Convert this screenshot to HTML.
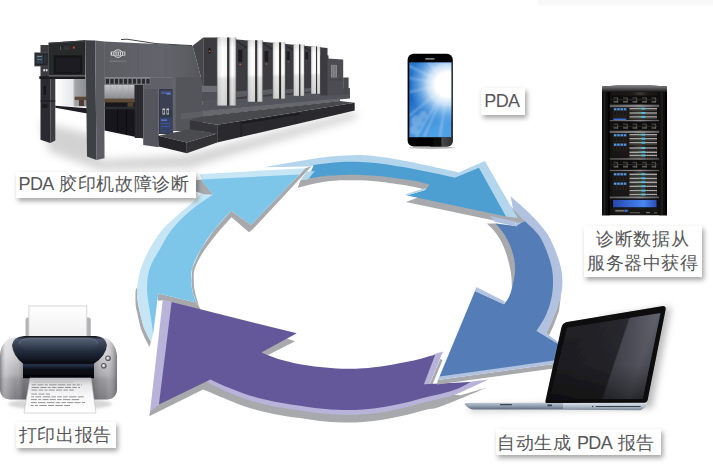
<!DOCTYPE html>
<html lang="zh">
<head>
<meta charset="utf-8">
<title>PDA 胶印机故障诊断</title>
<style>
html,body{margin:0;padding:0;background:#fff;}
body{width:713px;height:475px;position:relative;overflow:hidden;font-family:"Liberation Sans",sans-serif;}
#art{position:absolute;left:0;top:0;width:713px;height:475px;}
.lbl{position:absolute;background:#fff;color:#565658;font-size:18.4px;letter-spacing:0.55px;line-height:24px;white-space:nowrap;box-shadow:2px 3px 5px rgba(0,0,0,.36);text-align:left;box-sizing:border-box;}
.lbl .en{font-size:18px;letter-spacing:-0.6px;}
</style>
</head>
<body>
<svg id="art" width="713" height="475" viewBox="0 0 713 475">
<defs>
</defs>
<rect id="topstrip" x="538" y="0" width="175" height="5.5" fill="#f8f8f8"/>
<!-- RING -->
<g id="ring">
<path d="M158.2 293.5L196.5 302.5L201.0 310.0L163.5 300.2L158.0 300.8Z" fill="#A7A9AC"/>
<path d="M196.5 302.5L192.6 292.0L191.4 281.0L192.3 268.0L200.5 250.0L214.0 230.0L231.1 210.7L251.1 224.8L299.5 174.5L305.4 168.2L311.7 166.1L252.5 229.5L249.0 232.2L231.5 217.2C229.2 219.8 222.2 227.3 217.5 233.0C212.8 238.7 207.3 245.6 203.5 251.5C199.7 257.4 196.4 263.6 194.8 268.5C193.2 273.4 193.8 277.1 193.8 281.0C193.8 284.9 194.1 287.8 195.0 292.0C195.9 296.2 198.3 303.7 199.0 306.0Z" fill="#A7A9AC"/>
<path d="M137.3 287.0L137.5 300.0L139.2 309.6L144.0 328.0L151.0 342.0L153.0 334.0L149.5 347.0C148.2 344.3 143.9 336.8 141.8 331.0C139.7 325.2 138.1 316.8 137.0 312.0C135.9 307.2 135.7 305.7 135.5 302.0C135.3 298.3 135.6 292.0 135.6 290.0Z" fill="#A7A9AC"/>
<path d="M305.4 168.2L199.5 174.2C200.2 176.3 204.1 182.9 203.5 187.0C202.9 191.1 199.9 194.7 196.0 199.0C192.1 203.3 185.7 207.8 180.0 213.0C174.3 218.2 167.1 224.0 162.0 230.0C156.9 236.0 153.1 242.7 149.6 249.0C146.1 255.3 143.1 261.7 141.0 268.0C138.9 274.3 137.9 281.7 137.3 287.0C136.7 292.3 137.2 296.2 137.5 300.0C137.8 303.8 138.1 304.9 139.2 309.6C140.3 314.3 142.0 322.6 144.0 328.0C146.0 333.4 149.8 339.7 151.0 342.0L153.0 334.0L158.2 293.5L175.0 260.0L215.0 215.0L240.0 205.0L299.5 174.5Z" fill="#C6E6F5"/>
<path d="M195.0 180.5L201.0 179.5L213.0 194.5L203.5 194.2L195.0 191.0Z" fill="#A7A9AC"/>
<path d="M299.5 174.5L201.0 179.5L213.0 194.5C209.2 197.2 196.9 205.1 190.0 211.0C183.1 216.9 176.4 223.7 171.4 230.0C166.4 236.3 163.3 243.3 160.0 249.0C156.7 254.7 153.6 259.3 151.5 264.0C149.4 268.7 148.4 272.7 147.7 277.4C147.0 282.1 147.0 287.2 147.2 292.0C147.4 296.8 148.3 301.0 149.0 306.0C149.7 311.0 150.8 317.3 151.5 322.0C152.2 326.7 152.8 332.0 153.0 334.0L158.2 293.5L196.5 302.5C195.8 300.8 193.4 295.6 192.6 292.0C191.8 288.4 191.4 285.0 191.4 281.0C191.4 277.0 190.8 273.2 192.3 268.0C193.8 262.8 196.9 256.3 200.5 250.0C204.1 243.7 208.9 236.6 214.0 230.0C219.1 223.4 228.2 213.9 231.1 210.7L251.1 224.8Z" fill="#7DC6E9"/>
<path d="M487.1 387.4C479.6 390.5 452.2 402.2 442.0 405.9C431.8 409.6 432.2 408.1 426.0 409.7C419.8 411.2 412.0 413.6 405.0 415.2C398.0 416.8 391.0 418.4 384.0 419.5C377.0 420.6 370.0 421.4 363.0 421.9C356.0 422.4 349.2 422.6 342.0 422.4C334.8 422.2 327.0 421.6 320.0 420.9C313.0 420.2 306.3 419.0 300.0 418.1C293.7 417.2 287.9 416.4 282.0 415.4C276.1 414.4 271.0 413.5 264.8 412.0C258.6 410.5 251.3 408.5 245.0 406.4C238.7 404.3 234.0 402.2 227.0 399.4C220.0 396.6 207.1 391.1 203.1 389.5L149.2 416.3L150.0 411.8L170.0 350.0L300.0 390.0L430.0 392.0L460.6 395.2Z" fill="#A7A9AC"/>
<path d="M286.8 338.6L295.2 341.2L268.0 355.0L260.3 352.6Z" fill="#A7A9AC"/>
<path d="M440.3 359.0L442.6 360.0L431.2 387.6L428.3 387.4Z" fill="#A7A9AC"/>
<path d="M162.8 299.7L171.6 302.1L200.0 340.0L300.0 380.0L428.0 372.0L434.5 354.0L442.9 351.6L429.5 384.6L460.0 383.0L488.4 379.4C483.2 381.8 464.7 390.6 457.0 393.8C449.3 397.0 447.2 396.9 442.0 398.3C436.8 399.7 432.2 400.6 426.0 402.1C419.8 403.7 412.0 406.0 405.0 407.6C398.0 409.2 391.0 410.8 384.0 411.9C377.0 413.0 370.0 413.8 363.0 414.3C356.0 414.8 349.2 415.0 342.0 414.8C334.8 414.6 327.0 414.0 320.0 413.3C313.0 412.6 306.3 411.4 300.0 410.5C293.7 409.6 287.9 408.8 282.0 407.8C276.1 406.8 271.0 405.9 264.8 404.4C258.6 402.9 251.3 400.9 245.0 398.8C238.7 396.7 233.6 394.7 227.0 391.8C220.4 388.9 208.9 383.0 205.3 381.2L210.5 378.0L200.0 375.0L165.0 398.0L158.9 404.5L150.0 411.8Z" fill="#B7B3D9"/>
<path d="M171.6 302.1L296.8 333.3L261.4 352.5C264.5 353.7 273.6 357.6 280.0 359.5C286.4 361.4 293.3 362.9 300.0 364.2C306.7 365.4 313.0 366.2 320.0 367.0C327.0 367.8 334.8 368.5 342.0 368.7C349.2 368.9 356.0 368.8 363.0 368.3C370.0 367.8 377.5 366.8 384.0 365.9C390.5 365.0 396.4 363.9 402.0 362.8C407.6 361.7 412.2 360.9 417.8 359.5C423.4 358.1 432.4 355.3 435.3 354.5L423.9 384.2L470.7 382.0C468.4 383.2 461.8 387.1 457.0 389.0C452.2 390.9 447.2 392.1 442.0 393.5C436.8 394.9 432.2 395.8 426.0 397.3C419.8 398.9 412.0 401.2 405.0 402.8C398.0 404.4 391.0 406.0 384.0 407.1C377.0 408.2 370.0 409.0 363.0 409.5C356.0 410.0 349.2 410.2 342.0 410.0C334.8 409.8 327.0 409.2 320.0 408.5C313.0 407.8 306.3 406.6 300.0 405.7C293.7 404.8 287.9 404.0 282.0 403.0C276.1 402.0 271.0 401.1 264.8 399.6C258.6 398.1 251.3 396.1 245.0 394.0C238.7 391.9 232.8 389.4 227.0 387.0C221.2 384.6 213.2 380.7 210.5 379.4L158.9 404.5Z" fill="#65589A"/>
<path d="M495.5 223.5L487.0 223.5C488.3 224.9 492.5 228.8 495.0 232.0C497.5 235.2 500.0 239.0 502.0 243.0C504.0 247.0 505.7 251.8 507.0 256.0C508.3 260.2 509.2 264.3 510.0 268.0C510.8 271.7 511.2 274.3 511.5 278.0C511.8 281.7 511.9 288.0 512.0 290.0L525.0 290.0L530.0 260.0L520.0 235.0L505.0 226.0Z" fill="#A7A9AC"/>
<path d="M437.8 380.0L572.0 361.5L572.0 366.0L437.0 384.5Z" fill="#A7A9AC"/>
<path d="M561.0 295.0L556.6 309.5L551.0 323.0L546.0 333.2L549.0 335.5L553.8 325.0L559.0 311.0Z" fill="#A7A9AC"/>
<path d="M510.5 196.2C512.9 198.3 520.6 204.9 525.0 209.0C529.4 213.1 533.2 216.7 537.0 221.0C540.8 225.3 544.8 229.8 548.0 235.0C551.2 240.2 553.8 246.5 556.0 252.0C558.2 257.5 559.9 263.2 561.0 268.0C562.1 272.8 562.4 276.5 562.4 281.0C562.4 285.5 562.0 290.2 561.0 295.0C560.0 299.8 558.3 304.8 556.6 309.5C554.9 314.2 552.8 319.1 551.0 323.0C549.2 326.9 546.8 331.5 546.0 333.2L572.0 352.0L572.0 361.5L437.8 380.0L439.5 376.6L500.0 330.0L530.0 280.0L516.5 226.0Z" fill="#B0C2E0"/>
<path d="M524.4 220.8C526.8 223.2 534.8 229.8 538.6 235.0C542.4 240.2 544.8 246.3 547.0 252.0C549.2 257.7 551.0 263.5 552.0 269.0C553.0 274.5 553.2 279.8 553.0 285.0C552.8 290.2 552.2 294.8 551.0 300.0C549.8 305.2 547.9 310.8 545.5 316.0C543.1 321.2 538.0 328.5 536.5 331.0L561.8 346.3L566.0 358.8L439.5 376.6L475.0 291.0L504.0 304.2C504.8 303.0 507.6 300.0 509.0 297.0C510.4 294.0 511.5 290.2 512.5 286.0C513.5 281.8 514.8 276.7 515.0 272.0C515.2 267.3 515.0 262.8 514.0 258.0C513.0 253.2 511.0 247.5 509.0 243.0C507.0 238.5 504.2 234.2 502.0 231.0C499.8 227.8 496.6 224.8 495.5 223.5L516.5 226.0Z" fill="#547DB8"/>
<path d="M476.3 287.1L504.8 301.5L504.0 304.2L475.0 291.0Z" fill="#B0C2E0"/>
<path d="M307.0 179.0L300.5 180.2L297.7 187.9C300.6 187.2 309.6 184.8 315.0 183.6C320.4 182.4 325.0 181.6 330.0 181.0C335.0 180.4 339.7 180.3 345.0 180.2C350.3 180.1 356.1 180.1 361.6 180.3C367.1 180.5 372.7 181.1 378.0 181.6C383.3 182.1 387.1 182.7 393.2 183.6C399.2 184.5 408.2 185.8 414.3 187.0C420.4 188.2 427.4 190.3 430.0 191.0L425.0 195.0L405.8 201.9L500.0 221.8L506.0 223.0L525.0 222.0L508.5 204.0L500.0 205.0L440.0 176.0L350.0 168.0Z" fill="#A7A9AC"/>
<path d="M264.0 167.3C267.5 166.7 279.0 164.7 285.0 163.6C291.0 162.5 295.0 161.8 300.0 161.0C305.0 160.2 310.0 159.3 315.0 158.6C320.0 157.9 325.0 157.1 330.0 156.6C335.0 156.1 339.7 155.8 345.0 155.5C350.3 155.2 356.1 154.9 361.6 155.1C367.1 155.3 372.7 155.9 378.0 156.5C383.3 157.1 387.9 157.8 393.2 158.7C398.5 159.6 404.7 160.6 410.0 161.7C415.3 162.8 419.8 163.9 424.8 165.0C429.8 166.1 434.4 167.1 440.0 168.3C445.6 169.5 455.4 171.7 458.5 172.4L484.9 161.1L517.7 218.0L506.0 216.5L470.0 190.0L440.0 176.0L314.3 165.8L307.0 166.6Z" fill="#B3D6EC"/>
<path d="M313.8 164.7C316.5 164.4 324.8 163.4 330.0 162.9C335.2 162.4 339.7 162.0 345.0 161.8C350.3 161.6 356.1 161.7 361.6 161.9C367.1 162.1 372.7 162.6 378.0 163.2C383.3 163.8 387.9 164.6 393.2 165.4C398.5 166.2 404.7 167.2 410.0 168.2C415.3 169.2 419.8 170.3 424.8 171.3C429.8 172.3 435.0 173.2 440.0 174.3C445.0 175.4 452.3 177.2 454.8 177.8L478.9 167.7L506.0 216.5L406.9 195.6L425.9 189.7L429.4 184.6C426.9 184.0 420.3 182.0 414.3 180.8C408.3 179.7 399.2 178.5 393.2 177.7C387.1 176.9 383.3 176.5 378.0 176.0C372.7 175.5 367.1 175.1 361.6 174.9C356.1 174.7 350.3 174.8 345.0 174.9C339.7 175.0 334.5 175.2 330.0 175.5C325.5 175.8 321.7 176.4 318.0 177.0C314.3 177.6 309.5 178.5 307.8 178.8Z" fill="#4E9FD1"/>
<path d="M406.9 195.6L405.5 194.3L425.5 188.0L425.9 189.7Z" fill="#B3D6EC"/>
<path d="M306.8 171.5L314.8 171.0L308.2 179.2L300.5 180.2Z" fill="#B3D6EC"/>
<path d="M489.7 216.1L514.5 221.3L516.8 226.5L495.0 222.0Z" fill="#B0C2E0"/>
</g><!--/ring-->
<!-- PRESS -->
<g id="press">
<defs>
<filter id="pblur" x="-5%" y="-5%" width="110%" height="110%"><feGaussianBlur stdDeviation="0.45"/></filter>
<filter id="pshadow" x="-20%" y="-40%" width="140%" height="180%"><feGaussianBlur stdDeviation="4"/></filter>
<linearGradient id="pil" x1="0" x2="1" y1="0" y2="0">
<stop offset="0" stop-color="#8b8d91"/><stop offset="0.08" stop-color="#e9eaec"/><stop offset="0.3" stop-color="#ffffff"/><stop offset="0.5" stop-color="#f4f5f6"/>
<stop offset="0.52" stop-color="#4a4741"/><stop offset="0.64" stop-color="#2c2b2a"/><stop offset="0.66" stop-color="#d9dadc"/><stop offset="0.8" stop-color="#ffffff"/><stop offset="0.93" stop-color="#e4e5e7"/><stop offset="1" stop-color="#7d7f83"/>
</linearGradient>
<linearGradient id="pilv" x1="0" x2="0" y1="0" y2="1">
<stop offset="0" stop-color="#000" stop-opacity="0.10"/><stop offset="0.15" stop-color="#000" stop-opacity="0"/><stop offset="0.55" stop-color="#000" stop-opacity="0"/><stop offset="0.62" stop-color="#000" stop-opacity="0.10"/><stop offset="1" stop-color="#000" stop-opacity="0.16"/>
</linearGradient>
<linearGradient id="pstack" x1="0" x2="0" y1="0" y2="1"><stop offset="0" stop-color="#c4c6c9"/><stop offset="1" stop-color="#85878b"/></linearGradient>
<linearGradient id="pgap" x1="0" x2="1" y1="0" y2="0"><stop offset="0" stop-color="#ffffff"/><stop offset="0.55" stop-color="#e6e7e8"/><stop offset="0.62" stop-color="#a3a5a8"/><stop offset="1" stop-color="#8a8c90"/></linearGradient>
<linearGradient id="pbody" x1="0" x2="1" y1="0" y2="0"><stop offset="0" stop-color="#5b5d63"/><stop offset="0.6" stop-color="#63656b"/><stop offset="1" stop-color="#55575d"/></linearGradient>
</defs>
<g filter="url(#pshadow)" opacity="0.32"><polygon points="40,122 95,135 100,160 186,155 355,111 357,118 215,160 190,168 100,170 50,152" fill="#777"/></g>
<g filter="url(#pblur)">
<rect x="40.5" y="45.0" width="8.3" height="32.0" fill="#3a3b3f"/>
<polygon points="48.6,42.7 85.6,40.2 85.6,75.8 48.6,75.8" fill="#28292c"/>
<polygon points="48.6,42.7 85.6,40.2 85.6,41.4 48.6,44.0" fill="#3c3d41"/>
<rect x="53.6" y="55.3" width="28.6" height="18.5" fill="#161618"/>
<rect x="56.0" y="58.0" width="24.0" height="14.0" fill="#1f1f22"/>
<circle cx="73.8" cy="47.7" r="1.1" fill="#c8452a"/>
<rect x="60.0" y="46.3" width="1.0" height="3.7" fill="#55575c"/>
<rect x="64.0" y="46.6" width="6.0" height="0.7" fill="#4a4c50"/>
<rect x="64.0" y="48.6" width="6.0" height="0.7" fill="#4a4c50"/>
<rect x="34.3" y="52.4" width="14.3" height="14.0" fill="#4a4c51"/>
<rect x="35.2" y="53.3" width="12.6" height="12.2" fill="#232428"/>
<rect x="36.2" y="54.6" width="6.8" height="9.0" fill="#33414c"/>
<rect x="43.6" y="54.6" width="3.2" height="9.0" fill="#2b3036"/>
<rect x="37.0" y="56.0" width="5.0" height="1.0" fill="#6d8391"/>
<rect x="37.0" y="59.0" width="5.0" height="1.0" fill="#5c707c"/>
<rect x="43.2" y="69.1" width="1.8" height="2.2" fill="#d8d9db"/>
<rect x="45.7" y="69.1" width="1.8" height="2.2" fill="#d8d9db"/>
<rect x="39.3" y="76.2" width="46.3" height="2.8" fill="#1b1c1f"/>
<rect x="55.3" y="79.0" width="31.7" height="27.5" fill="url(#pgap)"/>
<rect x="74.7" y="96.7" width="12.6" height="3.4" fill="#5b4a39"/>
<rect x="79.0" y="100.0" width="5.0" height="6.0" fill="#4c3e30"/>
<polygon points="40.5,79.0 50.3,79.0 50.3,143.0 40.5,139.7" fill="#2b2c30"/>
<polygon points="50.3,79.0 55.3,79.0 55.3,140.5 50.3,143.0" fill="#3b3c41"/>
<rect x="43.5" y="86.0" width="2.5" height="9.0" fill="#17181a"/>
<rect x="42.0" y="104.0" width="5.5" height="4.0" fill="#1a1b1d"/>
<rect x="40.5" y="100.5" width="14.8" height="1.0" fill="#1c1d1f"/>
<polygon points="55.3,105.8 87.3,108.2 87.3,113.6 55.3,107.7" fill="#1d1e21"/>
<polygon points="104.5,84.7 143.2,84.7 143.2,138.4 104.5,130.4" fill="#19191c"/>
<rect x="104.2" y="84.7" width="30.5" height="14.8" fill="url(#pstack)"/>
<rect x="110.0" y="84.7" width="0.5" height="14.3" fill="#9fa1a4"/>
<rect x="116.0" y="84.7" width="0.5" height="14.3" fill="#9fa1a4"/>
<rect x="122.0" y="84.7" width="0.5" height="14.3" fill="#9fa1a4"/>
<rect x="128.0" y="84.7" width="0.5" height="14.3" fill="#9fa1a4"/>
<rect x="104.2" y="98.6" width="32.6" height="3.8" fill="#5d4b39"/>
<rect x="127.5" y="102.4" width="6.0" height="4.4" fill="#4f4031"/>
<rect x="104.5" y="106.8" width="38.5" height="2.4" fill="#2c2d30"/>
<rect x="134.7" y="84.7" width="8.5" height="53.3" fill="#2a2b2f"/>
<rect x="117.0" y="109.2" width="1.3" height="23.8" fill="#0f0f11"/>
<rect x="126.0" y="109.2" width="1.2" height="25.8" fill="#0f0f11"/>
<polygon points="85.6,40.2 95.2,40.6 96.5,159.9 87.0,156.5" fill="#3e3f44"/>
<polygon points="95.2,40.6 104.3,41.6 104.5,158.2 96.5,159.9" fill="#5b5d63"/>
<polygon points="104.1,41.6 192.6,45.8 203.2,85.8 203.2,131.0 173.0,131.0 173.0,77.4 104.1,77.4" fill="url(#pbody)"/>
<polygon points="104.1,77.4 173.0,77.4 173.0,89.0 143.2,89.0 143.2,84.7 104.1,84.7" fill="#5c5e64"/>
<polyline points="121,39.6 127,39.2 156,43.6 192,45.6" fill="none" stroke="#2f3033" stroke-width="0.9"/>
<line x1="138" y1="43.2" x2="138" y2="77" stroke="#56585d" stroke-width="0.5"/>
<line x1="165" y1="44.5" x2="165" y2="77" stroke="#56585d" stroke-width="0.5"/>
<g fill="none" stroke="#e4e5e7" stroke-width="0.9"><ellipse cx="118" cy="53.6" rx="4.6" ry="3.7"/></g>
<rect x="110.7" y="51.6" width="14.6" height="4.0" fill="#d6d7d9"/>
<rect x="112.2" y="52.2" width="1.1" height="2.8" fill="#55575d"/>
<rect x="114.4" y="52.2" width="1.1" height="2.8" fill="#55575d"/>
<rect x="116.6" y="52.2" width="1.1" height="2.8" fill="#55575d"/>
<rect x="118.8" y="52.2" width="1.1" height="2.8" fill="#55575d"/>
<rect x="121.0" y="52.2" width="1.1" height="2.8" fill="#55575d"/>
<rect x="123.2" y="52.2" width="1.1" height="2.8" fill="#55575d"/>
<rect x="109.6" y="60.8" width="16.8" height="0.7" fill="#8c8e92"/>
<rect x="105.3" y="78.4" width="45.2" height="5.9" fill="#8e9094"/>
<rect x="105.8" y="78.9" width="3.4" height="4.9" fill="#2a2b2e"/>
<rect x="110.3" y="78.9" width="3.4" height="4.9" fill="#2a2b2e"/>
<rect x="114.8" y="78.9" width="3.4" height="4.9" fill="#2a2b2e"/>
<rect x="119.3" y="78.9" width="3.4" height="4.9" fill="#2a2b2e"/>
<rect x="123.8" y="78.9" width="3.4" height="4.9" fill="#2a2b2e"/>
<rect x="128.3" y="78.9" width="3.4" height="4.9" fill="#2a2b2e"/>
<rect x="132.8" y="78.9" width="3.4" height="4.9" fill="#2a2b2e"/>
<rect x="137.3" y="78.9" width="3.4" height="4.9" fill="#2a2b2e"/>
<rect x="141.8" y="78.9" width="3.4" height="4.9" fill="#2a2b2e"/>
<rect x="146.3" y="78.9" width="3.4" height="4.9" fill="#2a2b2e"/>
<polygon points="143.2,89.0 158.8,89.0 158.8,147.2 143.2,145.0" fill="#55575d"/>
<rect x="150.5" y="77.4" width="22.5" height="11.6" fill="#5f6167"/>
<rect x="158.8" y="89.0" width="14.4" height="45.0" fill="#33384a"/>
<rect x="159.8" y="90.0" width="12.4" height="20.0" fill="#3a4052"/>
<rect x="159.8" y="117.5" width="12.4" height="15.5" fill="#384364"/>
<rect x="161.0" y="91.5" width="10.0" height="2.5" fill="#4b5a86"/>
<rect x="166.5" y="93.0" width="4.0" height="1.6" fill="#5b7fe0"/>
<rect x="162.5" y="108.5" width="2.5" height="6.0" fill="#c9cbd0"/>
<rect x="166.5" y="108.5" width="2.5" height="6.0" fill="#c9cbd0"/>
<rect x="163.2" y="110.0" width="1.2" height="3.5" fill="#30313a"/>
<rect x="167.2" y="110.0" width="1.2" height="3.5" fill="#30313a"/>
<rect x="161.0" y="119.5" width="6.0" height="1.3" fill="#5a7de0"/>
<rect x="161.0" y="123.0" width="9.0" height="0.7" fill="#3f5bb5"/>
<rect x="161.0" y="126.0" width="9.0" height="0.7" fill="#3f5bb5"/>
<rect x="172.6" y="77.4" width="3.2" height="53.6" fill="#63656b"/>
<rect x="175.8" y="77.4" width="27.4" height="53.6" fill="#53555a"/>
<polygon points="203.2,37.4 216.8,37.5 327.5,48.0 327.5,96.0 203.2,110.0" fill="#3a3b40"/>
<polygon points="192.6,45.8 203.2,37.4 203.2,85.8" fill="#46474c"/>
<rect x="208.6" y="48.0" width="2.0" height="5.5" fill="#19191b"/>
<circle cx="209.6" cy="51.3" r="0.8" fill="#e0682a"/>
<polygon points="202.0,85.8 216.8,85.8 216.8,92.0 202.0,92.0" fill="#6c6e74"/>
<polygon points="202.0,92.0 216.8,92.0 216.8,101.0 202.0,101.0" fill="#4f5156"/>
<polygon points="202.0,101.0 216.8,100.0 216.8,104.0 202.0,105.0" fill="#696b71"/>
<polygon points="203.2,100.0 350.0,88.0 350.0,98.5 203.2,111.4" fill="#53555b"/>
<polygon points="236.2,40.0 247.4,47.1 247.4,49.2 236.2,41.5" fill="#2b2c30"/>
<rect x="238.2" y="49.7" width="4.1" height="12.2" fill="#1d1d20"/>
<circle cx="240.2" cy="64.4" r="0.76" fill="#e0682a"/>
<polygon points="236.2,91.6 247.4,90.6 247.4,99.3 236.2,100.3" fill="#5a5c62"/>
<polygon points="236.2,97.2 247.4,96.2 247.4,98.4 236.2,99.5" fill="#3d3e43"/>
<polygon points="262.8,42.5 272.7,48.7 272.7,50.5 262.8,44.0" fill="#2b2c30"/>
<rect x="264.6" y="51.0" width="3.7" height="10.8" fill="#1d1d20"/>
<circle cx="266.4" cy="64.0" r="0.67" fill="#e0682a"/>
<polygon points="262.8,90.0 272.7,89.1 272.7,96.3 262.8,97.3" fill="#5a5c62"/>
<polygon points="262.8,94.9 272.7,94.0 272.7,96.0 262.8,96.9" fill="#3d3e43"/>
<polygon points="285.3,44.5 293.3,49.5 293.3,50.9 285.3,46.0" fill="#2b2c30"/>
<rect x="286.7" y="51.3" width="3.0" height="8.7" fill="#1d1d20"/>
<circle cx="288.2" cy="61.8" r="0.55" fill="#e0682a"/>
<polygon points="285.3,89.4 293.3,88.7 293.3,93.8 285.3,94.8" fill="#5a5c62"/>
<polygon points="285.3,93.4 293.3,92.7 293.3,94.3 285.3,95.0" fill="#3d3e43"/>
<polygon points="304.3,46.5 311.0,50.6 311.0,51.8 304.3,48.0" fill="#2b2c30"/>
<rect x="305.5" y="52.1" width="2.5" height="7.3" fill="#1d1d20"/>
<circle cx="306.7" cy="60.9" r="0.46" fill="#e0682a"/>
<polygon points="304.3,88.6 311.0,88.0 311.0,91.6 304.3,92.6" fill="#5a5c62"/>
<polygon points="304.3,92.0 311.0,91.4 311.0,92.7 304.3,93.3" fill="#3d3e43"/>
<rect x="216.9" y="37.5" width="19.3" height="68.0" fill="url(#pil)"/>
<rect x="216.9" y="37.5" width="19.3" height="68.0" fill="url(#pilv)"/>
<rect x="247.4" y="40.2" width="15.4" height="61.5" fill="url(#pil)"/>
<rect x="247.4" y="40.2" width="15.4" height="61.5" fill="url(#pilv)"/>
<rect x="272.7" y="42.3" width="12.6" height="56.3" fill="url(#pil)"/>
<rect x="272.7" y="42.3" width="12.6" height="56.3" fill="url(#pilv)"/>
<rect x="293.3" y="44.4" width="11.0" height="51.4" fill="url(#pil)"/>
<rect x="293.3" y="44.4" width="11.0" height="51.4" fill="url(#pilv)"/>
<rect x="311.0" y="46.5" width="9.5" height="47.2" fill="url(#pil)"/>
<rect x="311.0" y="46.5" width="9.5" height="47.2" fill="url(#pilv)"/>
<rect x="320.5" y="55.4" width="8.0" height="40.0" fill="#3a3b40"/>
<polygon points="327.4,58.5 343.2,59.6 343.2,95.0 327.4,95.6" fill="#4b4d52"/>
<rect x="331.0" y="64.9" width="6.0" height="12.6" fill="#85878b"/>
<rect x="332.4" y="65.5" width="0.4" height="11.5" fill="#5b5d62"/>
<rect x="333.9" y="65.5" width="0.4" height="11.5" fill="#5b5d62"/>
<rect x="335.4" y="65.5" width="0.4" height="11.5" fill="#5b5d62"/>
<rect x="343.2" y="77.5" width="5.4" height="17.1" fill="#46484d"/>
<rect x="329.0" y="79.5" width="12.5" height="0.7" fill="#3b3c41"/>
<polygon points="203.0,111.0 340.0,98.6 340.0,101.2 203.0,116.4" fill="#66686e"/>
<polygon points="181.0,113.6 203.0,111.0 203.0,116.4 181.0,119.5" fill="#5d5f65"/>
<polygon points="189.8,120.3 203.0,116.2 340.0,101.0 354.7,102.8 217.2,124.8" fill="#47494e"/>
<polygon points="217.2,124.8 354.7,102.8 354.7,110.6 217.2,142.6" fill="#2a2b2f"/>
<polygon points="242.0,121.8 300.0,113.0 300.0,114.6 242.0,124.0" fill="#1b1c1e"/>
<line x1="241.3" y1="121.2" x2="241.3" y2="137" stroke="#1a1b1d" stroke-width="0.6"/>
<line x1="296" y1="113" x2="296" y2="123.5" stroke="#1a1b1d" stroke-width="0.5"/>
<polygon points="189.8,120.3 217.2,124.8 217.2,134.0 189.8,129.4" fill="#34353a"/>
<polygon points="158.2,135.7 189.8,129.2 217.2,133.6 186.8,142.4" fill="#494b50"/>
<polygon points="158.2,135.7 186.8,142.4 186.8,153.3 158.8,146.5" fill="#27282b"/>
<polygon points="186.8,142.4 217.2,133.6 217.2,142.6 186.8,153.3" fill="#303135"/>
</g>
</g><!--/press-->
<!-- PHONE -->
<g id="phone">
<defs>
<filter id="phblur" x="-5%" y="-5%" width="110%" height="110%"><feGaussianBlur stdDeviation="0.4"/></filter>
<filter id="phblur2" x="-20%" y="-20%" width="140%" height="140%"><feGaussianBlur stdDeviation="1.2"/></filter>
<linearGradient id="phsky" x1="0" x2="0.35" y1="0" y2="1"><stop offset="0" stop-color="#2976cd"/><stop offset="0.45" stop-color="#1d6bc4"/><stop offset="1" stop-color="#4f9fe4"/></linearGradient>
<radialGradient id="phsun" cx="447.5" cy="84.5" r="40" gradientUnits="userSpaceOnUse"><stop offset="0" stop-color="#fff"/><stop offset="0.3" stop-color="#fff"/><stop offset="0.5" stop-color="#dcedfb" stop-opacity="0.88"/><stop offset="0.78" stop-color="#8cc3f2" stop-opacity="0.42"/><stop offset="1" stop-color="#5aa6e8" stop-opacity="0"/></radialGradient>
<linearGradient id="phbot" x1="0" x2="1" y1="0" y2="0"><stop offset="0" stop-color="#050505"/><stop offset="0.48" stop-color="#0a0a0a"/><stop offset="0.52" stop-color="#4a4a4c"/><stop offset="1" stop-color="#2b2b2d"/></linearGradient>
<clipPath id="phclip"><rect x="409.3" y="62.4" width="42.1" height="74.8"/></clipPath>
</defs>
<ellipse cx="432" cy="147.8" rx="23" ry="1.1" fill="#9a9a9a" opacity="0.7" filter="url(#phblur)"/>
<g filter="url(#phblur)">
<rect x="407.6" y="53.8" width="45.2" height="92.7" rx="6" ry="6" fill="#060606"/>
<path d="M430 137.2H452.8V140.5Q452.8 146.5 446.8 146.5H430Z" fill="url(#phbot)"/>
<rect x="409.3" y="62.4" width="42.1" height="74.8" fill="url(#phsky)"/>
<g clip-path="url(#phclip)">
<g stroke="#cfe6fa" stroke-opacity="0.55" stroke-width="1.6" filter="url(#phblur2)">
<line x1="447.5" y1="84.5" x2="409" y2="66"/><line x1="447.5" y1="84.5" x2="409" y2="92"/><line x1="447.5" y1="84.5" x2="409" y2="116"/><line x1="447.5" y1="84.5" x2="424" y2="137"/><line x1="447.5" y1="84.5" x2="440" y2="137"/><line x1="447.5" y1="84.5" x2="428" y2="62"/><line x1="447.5" y1="84.5" x2="416" y2="137"/><line x1="447.5" y1="84.5" x2="409" y2="78"/>
</g>
<ellipse cx="447.5" cy="86" rx="36" ry="44" fill="url(#phsun)"/>
<g fill="#cfe2f6" opacity="0.35" filter="url(#phblur2)"><circle cx="417" cy="121" r="6"/><circle cx="423" cy="115" r="4"/><circle cx="414" cy="130" r="4.5"/></g>
</g>
<rect x="425" y="58.2" width="9.7" height="1.4" rx="0.7" fill="#a5a5a7"/>
</g>

</g><!--/phone-->
<!-- SERVER -->
<g id="server">
<defs>
<filter id="sblur" x="-5%" y="-5%" width="110%" height="110%"><feGaussianBlur stdDeviation="0.4"/></filter>
<linearGradient id="scap" x1="0" x2="0" y1="0" y2="1"><stop offset="0" stop-color="#88898b"/><stop offset="0.45" stop-color="#58595b"/><stop offset="1" stop-color="#1d1d1f"/></linearGradient>
<linearGradient id="sinner" x1="0" x2="1" y1="0" y2="0"><stop offset="0" stop-color="#141110"/><stop offset="0.45" stop-color="#1f1b19"/><stop offset="0.62" stop-color="#3b3634"/><stop offset="0.75" stop-color="#1f1b19"/><stop offset="1" stop-color="#120f0e"/></linearGradient>
<linearGradient id="sside" x1="0" x2="1" y1="0" y2="0"><stop offset="0" stop-color="#050505"/><stop offset="0.35" stop-color="#222223"/><stop offset="0.6" stop-color="#0a0a0a"/><stop offset="1" stop-color="#000"/></linearGradient>
<linearGradient id="sblue" x1="0" x2="1" y1="0" y2="0"><stop offset="0" stop-color="#2746ad"/><stop offset="0.55" stop-color="#3f78e6"/><stop offset="0.7" stop-color="#4a86ee"/><stop offset="1" stop-color="#2a4db8"/></linearGradient>
<linearGradient id="sdiv" x1="0" x2="1" y1="0" y2="0"><stop offset="0" stop-color="#5c5c5e"/><stop offset="0.6" stop-color="#8a8a8c"/><stop offset="1" stop-color="#5a5a5c"/></linearGradient>
</defs>
<g filter="url(#sblur)">
<path d="M602.0 86.4 Q634.5 84.0 667.0 86.4 L667.0 215.3 L602.0 215.3 Z" fill="#060606"/>
<rect x="602.0" y="91.2" width="7.8" height="124.1" fill="url(#sside)"/>
<rect x="659.2" y="91.2" width="7.8" height="124.1" fill="url(#sside)"/>
<rect x="609.8" y="91.8" width="49.4" height="123.0" fill="url(#sinner)"/>
<path d="M602.0 86.4 Q634.5 83.8 667.0 86.4 L667.0 91.8 L602.0 91.8 Z" fill="url(#scap)"/>
<rect x="612.0" y="95.5" width="45.5" height="8.8" fill="#0f0d0c"/>
<rect x="613.5" y="97.1" width="4.6" height="1.6" fill="#3a3836"/>
<rect x="613.5" y="101.0" width="4.6" height="1.6" fill="#5d5a57"/>
<rect x="617.3" y="98.1" width="0.8" height="4.4" fill="#6f6d6a"/>
<rect x="623.0" y="97.1" width="4.6" height="1.6" fill="#3a3836"/>
<rect x="623.0" y="101.0" width="4.6" height="1.6" fill="#5d5a57"/>
<rect x="626.8" y="98.1" width="0.8" height="4.4" fill="#6f6d6a"/>
<rect x="632.5" y="97.1" width="4.6" height="1.6" fill="#3a3836"/>
<rect x="632.5" y="101.0" width="4.6" height="1.6" fill="#5d5a57"/>
<rect x="636.3" y="98.1" width="0.8" height="4.4" fill="#6f6d6a"/>
<rect x="642.0" y="97.1" width="4.6" height="1.6" fill="#3a3836"/>
<rect x="642.0" y="101.0" width="4.6" height="1.6" fill="#5d5a57"/>
<rect x="645.8" y="98.1" width="0.8" height="4.4" fill="#6f6d6a"/>
<rect x="651.5" y="97.1" width="4.6" height="1.6" fill="#3a3836"/>
<rect x="651.5" y="101.0" width="4.6" height="1.6" fill="#5d5a57"/>
<rect x="655.3" y="98.1" width="0.8" height="4.4" fill="#6f6d6a"/>
<rect x="612.0" y="99.5" width="45.5" height="0.7" fill="#3a3735"/>
<rect x="609.8" y="104.7" width="49.4" height="2.5" fill="url(#sdiv)"/>
<rect x="613.4" y="107.6" width="13.4" height="8.2" fill="#2a2725"/>
<rect x="613.9" y="108.2" width="2.5" height="2.2" fill="#4d97e8"/>
<rect x="613.9" y="110.8" width="2.5" height="4.4" fill="#1a1817"/>
<rect x="617.2" y="108.2" width="2.5" height="2.2" fill="#4d97e8"/>
<rect x="617.2" y="110.8" width="2.5" height="4.4" fill="#1a1817"/>
<rect x="620.5" y="108.2" width="2.5" height="2.2" fill="#4d97e8"/>
<rect x="620.5" y="110.8" width="2.5" height="4.4" fill="#1a1817"/>
<rect x="623.8" y="108.2" width="2.5" height="2.2" fill="#4d97e8"/>
<rect x="623.8" y="110.8" width="2.5" height="4.4" fill="#1a1817"/>
<rect x="613.4" y="116.2" width="13.4" height="2.0" fill="#23201f"/>
<rect x="613.4" y="118.5" width="12.8" height="1.5" fill="#3a6fd8"/>
<rect x="629.5" y="108.0" width="27.5" height="1.5" fill="#a9a9ab"/>
<rect x="629.5" y="109.5" width="27.5" height="1.7" fill="#3a3836"/>
<rect x="641.5" y="107.7" width="3.7" height="1.9" fill="#4fc3ee"/>
<rect x="639.2" y="108.1" width="1.2" height="1.2" fill="#4dbb5a"/>
<rect x="629.5" y="112.3" width="27.5" height="1.5" fill="#a9a9ab"/>
<rect x="629.5" y="113.8" width="27.5" height="1.7" fill="#3a3836"/>
<rect x="641.5" y="112.0" width="3.7" height="1.9" fill="#4fc3ee"/>
<rect x="639.2" y="112.4" width="1.2" height="1.2" fill="#4dbb5a"/>
<rect x="629.5" y="116.2" width="27.5" height="1.5" fill="#a9a9ab"/>
<rect x="629.5" y="117.7" width="27.5" height="1.7" fill="#3a3836"/>
<rect x="641.5" y="115.9" width="3.7" height="1.9" fill="#4fc3ee"/>
<rect x="639.2" y="116.3" width="1.2" height="1.2" fill="#4dbb5a"/>
<rect x="609.8" y="120.0" width="49.4" height="1.1" fill="url(#sdiv)"/>
<rect x="612.0" y="122.0" width="45.5" height="8.4" fill="#0f0d0c"/>
<rect x="613.5" y="123.5" width="4.6" height="1.5" fill="#3a3836"/>
<rect x="613.5" y="127.2" width="4.6" height="1.5" fill="#5d5a57"/>
<rect x="617.3" y="124.5" width="0.8" height="4.2" fill="#6f6d6a"/>
<rect x="623.0" y="123.5" width="4.6" height="1.5" fill="#3a3836"/>
<rect x="623.0" y="127.2" width="4.6" height="1.5" fill="#5d5a57"/>
<rect x="626.8" y="124.5" width="0.8" height="4.2" fill="#6f6d6a"/>
<rect x="632.5" y="123.5" width="4.6" height="1.5" fill="#3a3836"/>
<rect x="632.5" y="127.2" width="4.6" height="1.5" fill="#5d5a57"/>
<rect x="636.3" y="124.5" width="0.8" height="4.2" fill="#6f6d6a"/>
<rect x="642.0" y="123.5" width="4.6" height="1.5" fill="#3a3836"/>
<rect x="642.0" y="127.2" width="4.6" height="1.5" fill="#5d5a57"/>
<rect x="645.8" y="124.5" width="0.8" height="4.2" fill="#6f6d6a"/>
<rect x="651.5" y="123.5" width="4.6" height="1.5" fill="#3a3836"/>
<rect x="651.5" y="127.2" width="4.6" height="1.5" fill="#5d5a57"/>
<rect x="655.3" y="124.5" width="0.8" height="4.2" fill="#6f6d6a"/>
<rect x="612.0" y="125.9" width="45.5" height="0.7" fill="#3a3735"/>
<rect x="609.8" y="130.8" width="49.4" height="2.2" fill="url(#sdiv)"/>
<rect x="613.4" y="133.6" width="13.4" height="8.2" fill="#2a2725"/>
<rect x="613.9" y="134.2" width="2.5" height="2.2" fill="#4d97e8"/>
<rect x="613.9" y="136.8" width="2.5" height="4.4" fill="#1a1817"/>
<rect x="617.2" y="134.2" width="2.5" height="2.2" fill="#4d97e8"/>
<rect x="617.2" y="136.8" width="2.5" height="4.4" fill="#1a1817"/>
<rect x="620.5" y="134.2" width="2.5" height="2.2" fill="#4d97e8"/>
<rect x="620.5" y="136.8" width="2.5" height="4.4" fill="#1a1817"/>
<rect x="623.8" y="134.2" width="2.5" height="2.2" fill="#4d97e8"/>
<rect x="623.8" y="136.8" width="2.5" height="4.4" fill="#1a1817"/>
<rect x="613.4" y="143.0" width="13.4" height="8.2" fill="#2a2725"/>
<rect x="613.9" y="143.6" width="2.5" height="2.2" fill="#4d97e8"/>
<rect x="613.9" y="146.2" width="2.5" height="4.4" fill="#1a1817"/>
<rect x="617.2" y="143.6" width="2.5" height="2.2" fill="#4d97e8"/>
<rect x="617.2" y="146.2" width="2.5" height="4.4" fill="#1a1817"/>
<rect x="620.5" y="143.6" width="2.5" height="2.2" fill="#4d97e8"/>
<rect x="620.5" y="146.2" width="2.5" height="4.4" fill="#1a1817"/>
<rect x="623.8" y="143.6" width="2.5" height="2.2" fill="#4d97e8"/>
<rect x="623.8" y="146.2" width="2.5" height="4.4" fill="#1a1817"/>
<rect x="629.5" y="134.0" width="27.5" height="1.5" fill="#a9a9ab"/>
<rect x="629.5" y="135.5" width="27.5" height="1.7" fill="#3a3836"/>
<rect x="641.5" y="133.7" width="3.7" height="1.9" fill="#4fc3ee"/>
<rect x="639.2" y="134.1" width="1.2" height="1.2" fill="#4dbb5a"/>
<rect x="629.5" y="138.0" width="27.5" height="1.5" fill="#a9a9ab"/>
<rect x="629.5" y="139.5" width="27.5" height="1.7" fill="#3a3836"/>
<rect x="641.5" y="137.7" width="3.7" height="1.9" fill="#4fc3ee"/>
<rect x="639.2" y="138.1" width="1.2" height="1.2" fill="#4dbb5a"/>
<rect x="629.5" y="142.0" width="27.5" height="1.5" fill="#a9a9ab"/>
<rect x="629.5" y="143.5" width="27.5" height="1.7" fill="#3a3836"/>
<rect x="641.5" y="141.7" width="3.7" height="1.9" fill="#4fc3ee"/>
<rect x="639.2" y="142.1" width="1.2" height="1.2" fill="#4dbb5a"/>
<rect x="629.5" y="147.3" width="27.5" height="1.5" fill="#a9a9ab"/>
<rect x="629.5" y="148.8" width="27.5" height="1.7" fill="#3a3836"/>
<rect x="641.5" y="147.0" width="3.7" height="1.9" fill="#4fc3ee"/>
<rect x="639.2" y="147.4" width="1.2" height="1.2" fill="#4dbb5a"/>
<rect x="646.0" y="148.8" width="0.9" height="1.5" fill="#0c0c0c"/>
<rect x="647.8" y="148.8" width="0.9" height="1.5" fill="#0c0c0c"/>
<rect x="649.6" y="148.8" width="0.9" height="1.5" fill="#0c0c0c"/>
<rect x="651.4" y="148.8" width="0.9" height="1.5" fill="#0c0c0c"/>
<rect x="653.2" y="148.8" width="0.9" height="1.5" fill="#0c0c0c"/>
<rect x="655.0" y="148.8" width="0.9" height="1.5" fill="#0c0c0c"/>
<rect x="629.5" y="151.5" width="27.5" height="1.5" fill="#a9a9ab"/>
<rect x="629.5" y="153.0" width="27.5" height="1.7" fill="#3a3836"/>
<rect x="641.5" y="151.2" width="3.7" height="1.9" fill="#4fc3ee"/>
<rect x="639.2" y="151.6" width="1.2" height="1.2" fill="#4dbb5a"/>
<rect x="646.0" y="153.0" width="0.9" height="1.5" fill="#0c0c0c"/>
<rect x="647.8" y="153.0" width="0.9" height="1.5" fill="#0c0c0c"/>
<rect x="649.6" y="153.0" width="0.9" height="1.5" fill="#0c0c0c"/>
<rect x="651.4" y="153.0" width="0.9" height="1.5" fill="#0c0c0c"/>
<rect x="653.2" y="153.0" width="0.9" height="1.5" fill="#0c0c0c"/>
<rect x="655.0" y="153.0" width="0.9" height="1.5" fill="#0c0c0c"/>
<rect x="629.5" y="154.8" width="27.5" height="1.5" fill="#a9a9ab"/>
<rect x="629.5" y="156.3" width="27.5" height="1.7" fill="#3a3836"/>
<rect x="641.5" y="154.5" width="3.7" height="1.9" fill="#4fc3ee"/>
<rect x="639.2" y="154.9" width="1.2" height="1.2" fill="#4dbb5a"/>
<rect x="646.0" y="156.3" width="0.9" height="1.5" fill="#0c0c0c"/>
<rect x="647.8" y="156.3" width="0.9" height="1.5" fill="#0c0c0c"/>
<rect x="649.6" y="156.3" width="0.9" height="1.5" fill="#0c0c0c"/>
<rect x="651.4" y="156.3" width="0.9" height="1.5" fill="#0c0c0c"/>
<rect x="653.2" y="156.3" width="0.9" height="1.5" fill="#0c0c0c"/>
<rect x="655.0" y="156.3" width="0.9" height="1.5" fill="#0c0c0c"/>
<rect x="609.8" y="158.3" width="49.4" height="1.3" fill="url(#sdiv)"/>
<rect x="612.0" y="160.0" width="45.5" height="9.4" fill="#0f0d0c"/>
<rect x="613.5" y="161.7" width="4.6" height="1.7" fill="#3a3836"/>
<rect x="613.5" y="165.8" width="4.6" height="1.7" fill="#5d5a57"/>
<rect x="617.3" y="162.8" width="0.8" height="4.7" fill="#6f6d6a"/>
<rect x="623.0" y="161.7" width="4.6" height="1.7" fill="#3a3836"/>
<rect x="623.0" y="165.8" width="4.6" height="1.7" fill="#5d5a57"/>
<rect x="626.8" y="162.8" width="0.8" height="4.7" fill="#6f6d6a"/>
<rect x="632.5" y="161.7" width="4.6" height="1.7" fill="#3a3836"/>
<rect x="632.5" y="165.8" width="4.6" height="1.7" fill="#5d5a57"/>
<rect x="636.3" y="162.8" width="0.8" height="4.7" fill="#6f6d6a"/>
<rect x="642.0" y="161.7" width="4.6" height="1.7" fill="#3a3836"/>
<rect x="642.0" y="165.8" width="4.6" height="1.7" fill="#5d5a57"/>
<rect x="645.8" y="162.8" width="0.8" height="4.7" fill="#6f6d6a"/>
<rect x="651.5" y="161.7" width="4.6" height="1.7" fill="#3a3836"/>
<rect x="651.5" y="165.8" width="4.6" height="1.7" fill="#5d5a57"/>
<rect x="655.3" y="162.8" width="0.8" height="4.7" fill="#6f6d6a"/>
<rect x="612.0" y="164.3" width="45.5" height="0.8" fill="#3a3735"/>
<rect x="609.8" y="169.9" width="49.4" height="1.2" fill="url(#sdiv)"/>
<rect x="613.4" y="172.6" width="13.4" height="8.2" fill="#2a2725"/>
<rect x="613.9" y="173.2" width="2.5" height="2.2" fill="#4d97e8"/>
<rect x="613.9" y="175.8" width="2.5" height="4.4" fill="#1a1817"/>
<rect x="617.2" y="173.2" width="2.5" height="2.2" fill="#4d97e8"/>
<rect x="617.2" y="175.8" width="2.5" height="4.4" fill="#1a1817"/>
<rect x="620.5" y="173.2" width="2.5" height="2.2" fill="#4d97e8"/>
<rect x="620.5" y="175.8" width="2.5" height="4.4" fill="#1a1817"/>
<rect x="623.8" y="173.2" width="2.5" height="2.2" fill="#4d97e8"/>
<rect x="623.8" y="175.8" width="2.5" height="4.4" fill="#1a1817"/>
<rect x="613.4" y="182.0" width="13.4" height="8.2" fill="#2a2725"/>
<rect x="613.9" y="182.6" width="2.5" height="2.2" fill="#4d97e8"/>
<rect x="613.9" y="185.2" width="2.5" height="4.4" fill="#1a1817"/>
<rect x="617.2" y="182.6" width="2.5" height="2.2" fill="#4d97e8"/>
<rect x="617.2" y="185.2" width="2.5" height="4.4" fill="#1a1817"/>
<rect x="620.5" y="182.6" width="2.5" height="2.2" fill="#4d97e8"/>
<rect x="620.5" y="185.2" width="2.5" height="4.4" fill="#1a1817"/>
<rect x="623.8" y="182.6" width="2.5" height="2.2" fill="#4d97e8"/>
<rect x="623.8" y="185.2" width="2.5" height="4.4" fill="#1a1817"/>
<rect x="629.5" y="173.6" width="27.5" height="1.5" fill="#a9a9ab"/>
<rect x="629.5" y="175.1" width="27.5" height="1.7" fill="#3a3836"/>
<rect x="641.5" y="173.3" width="3.7" height="1.9" fill="#4fc3ee"/>
<rect x="639.2" y="173.7" width="1.2" height="1.2" fill="#4dbb5a"/>
<rect x="629.5" y="177.7" width="27.5" height="1.5" fill="#a9a9ab"/>
<rect x="629.5" y="179.2" width="27.5" height="1.7" fill="#3a3836"/>
<rect x="641.5" y="177.4" width="3.7" height="1.9" fill="#4fc3ee"/>
<rect x="639.2" y="177.8" width="1.2" height="1.2" fill="#4dbb5a"/>
<rect x="629.5" y="181.5" width="27.5" height="1.5" fill="#a9a9ab"/>
<rect x="629.5" y="183.0" width="27.5" height="1.7" fill="#3a3836"/>
<rect x="641.5" y="181.2" width="3.7" height="1.9" fill="#4fc3ee"/>
<rect x="639.2" y="181.6" width="1.2" height="1.2" fill="#4dbb5a"/>
<rect x="629.5" y="185.6" width="27.5" height="1.5" fill="#a9a9ab"/>
<rect x="629.5" y="187.1" width="27.5" height="1.7" fill="#3a3836"/>
<rect x="641.5" y="185.3" width="3.7" height="1.9" fill="#4fc3ee"/>
<rect x="639.2" y="185.7" width="1.2" height="1.2" fill="#4dbb5a"/>
<rect x="646.0" y="187.1" width="0.9" height="1.5" fill="#0c0c0c"/>
<rect x="647.8" y="187.1" width="0.9" height="1.5" fill="#0c0c0c"/>
<rect x="649.6" y="187.1" width="0.9" height="1.5" fill="#0c0c0c"/>
<rect x="651.4" y="187.1" width="0.9" height="1.5" fill="#0c0c0c"/>
<rect x="653.2" y="187.1" width="0.9" height="1.5" fill="#0c0c0c"/>
<rect x="655.0" y="187.1" width="0.9" height="1.5" fill="#0c0c0c"/>
<rect x="629.5" y="189.9" width="27.5" height="1.5" fill="#a9a9ab"/>
<rect x="629.5" y="191.4" width="27.5" height="1.7" fill="#3a3836"/>
<rect x="641.5" y="189.6" width="3.7" height="1.9" fill="#4fc3ee"/>
<rect x="639.2" y="190.0" width="1.2" height="1.2" fill="#4dbb5a"/>
<rect x="646.0" y="191.4" width="0.9" height="1.5" fill="#0c0c0c"/>
<rect x="647.8" y="191.4" width="0.9" height="1.5" fill="#0c0c0c"/>
<rect x="649.6" y="191.4" width="0.9" height="1.5" fill="#0c0c0c"/>
<rect x="651.4" y="191.4" width="0.9" height="1.5" fill="#0c0c0c"/>
<rect x="653.2" y="191.4" width="0.9" height="1.5" fill="#0c0c0c"/>
<rect x="655.0" y="191.4" width="0.9" height="1.5" fill="#0c0c0c"/>
<rect x="629.5" y="193.8" width="27.5" height="1.5" fill="#a9a9ab"/>
<rect x="629.5" y="195.3" width="27.5" height="1.7" fill="#3a3836"/>
<rect x="641.5" y="193.5" width="3.7" height="1.9" fill="#4fc3ee"/>
<rect x="639.2" y="193.9" width="1.2" height="1.2" fill="#4dbb5a"/>
<rect x="646.0" y="195.3" width="0.9" height="1.5" fill="#0c0c0c"/>
<rect x="647.8" y="195.3" width="0.9" height="1.5" fill="#0c0c0c"/>
<rect x="649.6" y="195.3" width="0.9" height="1.5" fill="#0c0c0c"/>
<rect x="651.4" y="195.3" width="0.9" height="1.5" fill="#0c0c0c"/>
<rect x="653.2" y="195.3" width="0.9" height="1.5" fill="#0c0c0c"/>
<rect x="655.0" y="195.3" width="0.9" height="1.5" fill="#0c0c0c"/>
<rect x="609.8" y="196.6" width="49.4" height="1.7" fill="url(#sdiv)"/>
<rect x="611.5" y="198.9" width="46.5" height="9.1" fill="#0d0b0a"/>
<rect x="613.0" y="199.9" width="43.6" height="7.4" fill="url(#sblue)"/>
<rect x="611.5" y="208.4" width="46.5" height="6.2" fill="#151312"/>
<rect x="614.5" y="209.2" width="14.5" height="3.4" fill="#2a2827"/>
<rect x="615.5" y="210.2" width="8.5" height="1.2" fill="#8c8a88"/>
<rect x="624.5" y="209.8" width="3.0" height="2.0" fill="#3f74dd"/>
<rect x="630.0" y="212.4" width="10.0" height="0.8" fill="#777573"/>
<rect x="646.0" y="212.2" width="4.0" height="1.0" fill="#8a8886"/>
<rect x="654.0" y="212.4" width="3.0" height="1.0" fill="#6a6866"/>
</g>
</g><!--/server-->
<!-- LAPTOP -->
<g id="laptop">
<defs>
<filter id="lblur" x="-5%" y="-5%" width="110%" height="110%"><feGaussianBlur stdDeviation="0.45"/></filter>
<filter id="lshadow" x="-30%" y="-30%" width="160%" height="160%"><feGaussianBlur stdDeviation="3.5"/></filter>
<linearGradient id="lscreen" gradientUnits="userSpaceOnUse" x1="575" y1="345" x2="655" y2="372"><stop offset="0" stop-color="#222227"/><stop offset="0.5" stop-color="#2a2a30"/><stop offset="0.52" stop-color="#4b4c56"/><stop offset="0.8" stop-color="#60616c"/><stop offset="1" stop-color="#50515b"/></linearGradient>
<linearGradient id="lscreenv" x1="0" x2="0" y1="0" y2="1"><stop offset="0" stop-color="#000" stop-opacity="0"/><stop offset="0.6" stop-color="#000" stop-opacity="0.15"/><stop offset="1" stop-color="#000" stop-opacity="0.55"/></linearGradient>
<linearGradient id="lbase" x1="0" x2="0" y1="0" y2="1"><stop offset="0" stop-color="#bcc7d3"/><stop offset="0.45" stop-color="#95a3b5"/><stop offset="1" stop-color="#5d6979"/></linearGradient>
<linearGradient id="lbase2" x1="0" x2="0" y1="0" y2="1"><stop offset="0" stop-color="#dfe5ec"/><stop offset="0.5" stop-color="#b4bfcc"/><stop offset="1" stop-color="#7b8796"/></linearGradient>
</defs>
<g filter="url(#lshadow)" opacity="0.5"><polygon points="600,318 671,307 652,408 470,411 468,407 600,404" fill="#77777b"/></g>
<g filter="url(#lblur)">
<path d="M464.6 404.2Q464.4 403.2 467 403.1L563 402.6V409.6L473 409.4Q468 408.8 464.6 404.2Z" fill="url(#lbase)"/>
<path d="M563 402.4H647Q647 406.5 640.5 410.2L563 409.8Z" fill="url(#lbase2)"/>
<rect x="500" y="404" width="12" height="1.3" rx="0.6" fill="#3b4450"/>
<rect x="547.3" y="404.6" width="4.8" height="1.6" rx="0.6" fill="#39424d"/>
<rect x="595.8" y="406.1" width="44.8" height="0.9" fill="#2e3640"/>
<circle cx="592.7" cy="406.5" r="0.7" fill="#2e3640"/>
<path d="M561.3 328Q562.2 323 567 322.1L661.6 306.2Q666.4 305.5 665.6 309.8L647.6 400.2Q647 402.6 644.6 402.7L547.2 403Q544.9 403 545.5 400.4Z" fill="#09090b"/>
<polygon points="567,327.6 660.6,312.9 642.8,398.8 549.6,399.6" fill="url(#lscreen)"/>
<polygon points="567,327.6 660.6,312.9 642.8,398.8 549.6,399.6" fill="url(#lscreenv)"/>
<circle cx="609.3" cy="317.3" r="0.6" fill="#3a3a40"/>
</g>

</g><!--/laptop-->
<!-- PRINTER -->
<g id="printer">
<defs>
<filter id="prblur" x="-5%" y="-5%" width="110%" height="110%"><feGaussianBlur stdDeviation="0.5"/></filter>
<filter id="prblur2" x="-10%" y="-10%" width="120%" height="120%"><feGaussianBlur stdDeviation="1.6"/></filter>
<linearGradient id="prside" x1="0" x2="0" y1="0" y2="1"><stop offset="0" stop-color="#dcdce0"/><stop offset="0.3" stop-color="#c9c9cd"/><stop offset="0.6" stop-color="#a5a5aa"/><stop offset="0.68" stop-color="#8b8b90"/><stop offset="1" stop-color="#6c6c71"/></linearGradient>
<linearGradient id="prsideh" x1="0" x2="1" y1="0" y2="0"><stop offset="0" stop-color="#77777c" stop-opacity="0.8"/><stop offset="0.05" stop-color="#ffffff" stop-opacity="0.35"/><stop offset="0.13" stop-color="#fff" stop-opacity="0.1"/><stop offset="0.2" stop-color="#55555a" stop-opacity="0.35"/><stop offset="0.8" stop-color="#55555a" stop-opacity="0.3"/><stop offset="0.9" stop-color="#ffffff" stop-opacity="0.12"/><stop offset="1" stop-color="#66666b" stop-opacity="0.8"/></linearGradient>
<linearGradient id="prtop" x1="0" x2="0" y1="0" y2="1"><stop offset="0" stop-color="#0a0d12"/><stop offset="0.12" stop-color="#4a5567"/><stop offset="0.45" stop-color="#2a3444"/><stop offset="0.8" stop-color="#141b27"/><stop offset="1" stop-color="#06080c"/></linearGradient>
<linearGradient id="prlid" x1="0" x2="0" y1="0" y2="1"><stop offset="0" stop-color="#566275"/><stop offset="1" stop-color="#252f3f"/></linearGradient>
<linearGradient id="propen" x1="0" x2="0" y1="0" y2="1"><stop offset="0" stop-color="#030406"/><stop offset="0.12" stop-color="#2a3552"/><stop offset="0.4" stop-color="#0c1018"/><stop offset="1" stop-color="#020203"/></linearGradient>
<linearGradient id="prpaper" x1="0" x2="0" y1="0" y2="1"><stop offset="0" stop-color="#b9b9bd"/><stop offset="0.2" stop-color="#e6e6e8"/><stop offset="0.5" stop-color="#f8f8f9"/><stop offset="1" stop-color="#ffffff"/></linearGradient>
<linearGradient id="prin" x1="0" x2="0" y1="0" y2="1"><stop offset="0" stop-color="#ffffff"/><stop offset="1" stop-color="#eeeeef"/></linearGradient>
<radialGradient id="prbtn" cx="0.4" cy="0.35" r="0.7"><stop offset="0" stop-color="#f4f4f6"/><stop offset="0.6" stop-color="#b9b9be"/><stop offset="1" stop-color="#6a6a70"/></radialGradient>
</defs>
<ellipse cx="60" cy="404" rx="52" ry="6" fill="#888" opacity="0.35" filter="url(#prblur2)"/>
<g filter="url(#prblur)">
<path d="M25.5 320Q25.5 317.4 28 317.4H88.3Q90.8 317.4 90.8 320V340H25.5Z" fill="#b3b3b7"/>
<rect x="28.9" y="306" width="57.9" height="33" fill="url(#prin)" stroke="#cbcbce" stroke-width="0.8"/>
<path d="M0 356Q1 340 14 337.6L103 337.6Q115 340 117 356V390Q116 399 107 399.5H10Q1 399 0 390Z" fill="url(#prside)"/>
<path d="M0 356Q1 340 14 337.6L103 337.6Q115 340 117 356V390Q116 399 107 399.5H10Q1 399 0 390Z" fill="url(#prsideh)"/>
<path d="M12 345Q13 337 24 336H96Q106 337 107 345Q106 356 94 363.5H23Q13 356 12 345Z" fill="url(#prtop)"/>
<path d="M19 344Q20 338.4 30 338.2H88Q97 338.4 98 344Q97 350.6 88 351H30Q20 350.6 19 344Z" fill="url(#prlid)"/>
<path d="M19 344Q20 338.4 30 338.2H88Q97 338.4 98 344" fill="none" stroke="#7a869a" stroke-width="0.5"/>
<path d="M23 363H94V378.2H23Z" fill="url(#propen)"/>
<polygon points="30,378 91,378 96,413 24,413" fill="url(#prpaper)" stroke="#bdbdc1" stroke-width="0.6"/>
<rect x="31.7" y="384.4" width="4.5" height="0.9" fill="#88888c"/>
<rect x="37.5" y="384.4" width="6.0" height="0.9" fill="#88888c"/>
<rect x="44.8" y="384.4" width="3.0" height="0.9" fill="#88888c"/>
<rect x="49.1" y="384.4" width="7.5" height="0.9" fill="#88888c"/>
<rect x="57.9" y="384.4" width="7.5" height="0.9" fill="#88888c"/>
<rect x="66.7" y="384.4" width="4.5" height="0.9" fill="#88888c"/>
<rect x="72.5" y="384.4" width="3.0" height="0.9" fill="#88888c"/>
<rect x="76.8" y="384.4" width="3.0" height="0.9" fill="#88888c"/>
<rect x="81.1" y="384.4" width="0.9" height="0.9" fill="#88888c"/>
<rect x="31.6" y="387.0" width="7.5" height="0.9" fill="#88888c"/>
<rect x="40.4" y="387.0" width="6.0" height="0.9" fill="#88888c"/>
<rect x="47.6" y="387.0" width="3.0" height="0.9" fill="#88888c"/>
<rect x="51.9" y="387.0" width="4.5" height="0.9" fill="#88888c"/>
<rect x="57.7" y="387.0" width="6.0" height="0.9" fill="#88888c"/>
<rect x="65.0" y="387.0" width="6.0" height="0.9" fill="#88888c"/>
<rect x="72.3" y="387.0" width="4.5" height="0.9" fill="#88888c"/>
<rect x="78.1" y="387.0" width="1.9" height="0.9" fill="#88888c"/>
<rect x="31.4" y="389.6" width="6.0" height="0.9" fill="#88888c"/>
<rect x="38.7" y="389.6" width="4.5" height="0.9" fill="#88888c"/>
<rect x="44.5" y="389.6" width="3.0" height="0.9" fill="#88888c"/>
<rect x="48.8" y="389.6" width="6.0" height="0.9" fill="#88888c"/>
<rect x="56.1" y="389.6" width="6.0" height="0.9" fill="#88888c"/>
<rect x="63.4" y="389.6" width="4.5" height="0.9" fill="#88888c"/>
<rect x="69.2" y="389.6" width="4.5" height="0.9" fill="#88888c"/>
<rect x="31.2" y="393.6" width="6.0" height="0.9" fill="#88888c"/>
<rect x="38.5" y="393.6" width="6.0" height="0.9" fill="#88888c"/>
<rect x="45.8" y="393.6" width="4.2" height="0.9" fill="#88888c"/>
<rect x="31.1" y="396.4" width="3.0" height="0.9" fill="#88888c"/>
<rect x="35.4" y="396.4" width="6.0" height="0.9" fill="#88888c"/>
<rect x="42.7" y="396.4" width="7.5" height="0.9" fill="#88888c"/>
<rect x="51.5" y="396.4" width="4.5" height="0.9" fill="#88888c"/>
<rect x="57.3" y="396.4" width="4.5" height="0.9" fill="#88888c"/>
<rect x="63.1" y="396.4" width="4.5" height="0.9" fill="#88888c"/>
<rect x="68.9" y="396.4" width="7.5" height="0.9" fill="#88888c"/>
<rect x="77.7" y="396.4" width="6.0" height="0.9" fill="#88888c"/>
<rect x="85.0" y="396.4" width="0.0" height="0.9" fill="#88888c"/>
<rect x="30.9" y="399.2" width="6.0" height="0.9" fill="#88888c"/>
<rect x="38.2" y="399.2" width="3.0" height="0.9" fill="#88888c"/>
<rect x="42.5" y="399.2" width="6.0" height="0.9" fill="#88888c"/>
<rect x="49.8" y="399.2" width="6.0" height="0.9" fill="#88888c"/>
<rect x="57.1" y="399.2" width="4.5" height="0.9" fill="#88888c"/>
<rect x="62.9" y="399.2" width="7.5" height="0.9" fill="#88888c"/>
<rect x="71.7" y="399.2" width="7.5" height="0.9" fill="#88888c"/>
<rect x="30.8" y="402.2" width="6.0" height="0.9" fill="#88888c"/>
<rect x="38.1" y="402.2" width="7.5" height="0.9" fill="#88888c"/>
<rect x="46.9" y="402.2" width="7.5" height="0.9" fill="#88888c"/>
<rect x="55.7" y="402.2" width="4.5" height="0.9" fill="#88888c"/>
<rect x="61.5" y="402.2" width="4.5" height="0.9" fill="#88888c"/>
<rect x="67.3" y="402.2" width="6.0" height="0.9" fill="#88888c"/>
<rect x="74.6" y="402.2" width="6.0" height="0.9" fill="#88888c"/>
<rect x="81.9" y="402.2" width="3.0" height="0.9" fill="#88888c"/>
<rect x="30.6" y="405.0" width="3.0" height="0.9" fill="#88888c"/>
<rect x="34.9" y="405.0" width="3.0" height="0.9" fill="#88888c"/>
<rect x="39.2" y="405.0" width="7.5" height="0.9" fill="#88888c"/>
<rect x="48.0" y="405.0" width="6.0" height="0.9" fill="#88888c"/>
<rect x="55.3" y="405.0" width="7.5" height="0.9" fill="#88888c"/>
<rect x="64.1" y="405.0" width="5.9" height="0.9" fill="#88888c"/>
<rect x="33" y="381.6" width="40" height="0.8" fill="#9a9a9e" opacity="0.6"/>
<circle cx="108" cy="358.3" r="2.8" fill="#58585d"/><circle cx="108" cy="358.3" r="1.9" fill="url(#prbtn)"/>
<circle cx="103.8" cy="365.8" r="2.8" fill="#58585d"/><circle cx="103.8" cy="365.8" r="1.9" fill="url(#prbtn)"/>
</g>
</g><!--/printer-->
</svg>
<div class="lbl" style="left:15.9px;top:171.6px;width:180.6px;height:26px;padding:0.5px 0 0 2.6px;"><span class="en">PDA</span> 胶印机故障诊断</div>
<div class="lbl" style="left:480.9px;top:87.5px;width:44.2px;height:27px;padding:1.5px 0 0 3.4px;"><span class="en">PDA</span></div>
<div class="lbl" style="left:583.8px;top:226.2px;width:117.8px;height:50.6px;padding:0.5px 0 0 0;text-align:center;">诊断数据从<br>服务器中获得</div>
<div class="lbl" style="left:496px;top:429px;width:164.9px;height:25.8px;padding:1.5px 0 0 1px;">自动生成 <span class="en">PDA</span> 报告</div>
<div class="lbl" style="left:16.1px;top:422.2px;width:99.7px;height:25.5px;padding:0.5px 0 0 2.8px;">打印出报告</div>
</body>
</html>
